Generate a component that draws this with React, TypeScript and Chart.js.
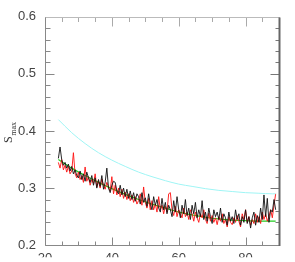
import React, { useEffect, useRef } from "react";
import { Chart, registerables } from "chart.js";

Chart.register(...registerables);

// x sampling of the noisy series
const X_START = 24;
const X_STEP = 0.5;

const BLACK = [
  0.352, 0.372, 0.350, 0.340,
  0.345, 0.335, 0.342, 0.330,
  0.338, 0.325, 0.332, 0.322,
  0.318, 0.330, 0.315, 0.325,
  0.312, 0.328, 0.318, 0.310,
  0.322, 0.305, 0.318, 0.300,
  0.315, 0.303, 0.322, 0.298,
  0.310, 0.335, 0.300, 0.292,
  0.305, 0.312, 0.310, 0.295,
  0.290, 0.305, 0.288, 0.300,
  0.285, 0.298, 0.282, 0.295,
  0.280, 0.292, 0.277, 0.290,
  0.285, 0.272, 0.292, 0.275,
  0.283, 0.268, 0.290, 0.272,
  0.262, 0.285, 0.270, 0.280,
  0.265, 0.258, 0.282, 0.262,
  0.275, 0.255, 0.270, 0.262,
  0.250, 0.278, 0.258, 0.285,
  0.262, 0.248, 0.270, 0.255,
  0.280, 0.252, 0.265, 0.245,
  0.270, 0.255, 0.275, 0.248,
  0.262, 0.250, 0.278, 0.245,
  0.258, 0.242, 0.265, 0.250,
  0.238, 0.262, 0.250, 0.258,
  0.245, 0.265, 0.240, 0.255,
  0.248, 0.235, 0.258, 0.242,
  0.250, 0.238, 0.262, 0.245,
  0.255, 0.235, 0.250, 0.240,
  0.262, 0.238, 0.250, 0.230,
  0.248, 0.258, 0.235, 0.252,
  0.240, 0.265, 0.245, 0.288,
  0.250, 0.282, 0.240, 0.262,
  0.258, 0.280, 0.262,
];

const RED = [
  0.345, 0.335, 0.350, 0.332,
  0.340, 0.328, 0.338, 0.325,
  0.330, 0.362, 0.325, 0.318,
  0.328, 0.315, 0.322, 0.310,
  0.337, 0.312, 0.320, 0.305,
  0.315, 0.308, 0.325, 0.302,
  0.312, 0.300, 0.316, 0.305,
  0.298, 0.310, 0.302, 0.295,
  0.320, 0.290, 0.305, 0.288,
  0.300, 0.285, 0.298, 0.282,
  0.293, 0.280, 0.290, 0.278,
  0.288, 0.275, 0.285, 0.272,
  0.278, 0.290, 0.270, 0.302,
  0.275, 0.265, 0.282, 0.262,
  0.278, 0.262, 0.272, 0.258,
  0.285, 0.262, 0.270, 0.255,
  0.268, 0.258, 0.290, 0.292,
  0.262, 0.252, 0.268, 0.250,
  0.262, 0.255, 0.248, 0.265,
  0.250, 0.258, 0.245, 0.262,
  0.255, 0.242, 0.258, 0.248,
  0.240, 0.255, 0.248, 0.262,
  0.245, 0.238, 0.256, 0.242,
  0.252, 0.240, 0.248, 0.236,
  0.250, 0.242, 0.255, 0.238,
  0.245, 0.232, 0.250, 0.240,
  0.236, 0.248, 0.240, 0.252,
  0.242, 0.232, 0.255, 0.245,
  0.262, 0.240, 0.250, 0.235,
  0.245, 0.238, 0.255, 0.240,
  0.250, 0.238, 0.258, 0.245,
  0.255, 0.242, 0.250, 0.262,
  0.248, 0.270, 0.290,
];

// smooth curves
const SMOOTH_X = [24, 28, 32, 36, 40, 44, 48, 52, 56, 60, 64, 68, 72, 76, 80, 84, 88, 89];
const GREEN = [0.350, 0.335, 0.322, 0.310, 0.299, 0.289, 0.280, 0.272, 0.265, 0.258, 0.253, 0.249, 0.246, 0.244, 0.243, 0.242, 0.242, 0.242];
const CYAN = [0.420, 0.397, 0.378, 0.362, 0.349, 0.338, 0.328, 0.320, 0.313, 0.307, 0.303, 0.299, 0.296, 0.294, 0.292, 0.291, 0.290, 0.290];

const X_TICKS = [20, 40, 60, 80];
const X_MINOR = [25, 30, 35, 45, 50, 55, 65, 70, 75, 85];
const Y_TICKS = [0.2, 0.3, 0.4, 0.5, 0.6];
const Y_MINOR = [0.22, 0.24, 0.26, 0.28, 0.32, 0.34, 0.36, 0.38, 0.42, 0.44, 0.46, 0.48, 0.52, 0.54, 0.56, 0.58];

const noisy = (arr: number[]) => arr.map((v, i) => ({ x: X_START + i * X_STEP, y: v }));
const smooth = (arr: number[]) => arr.map((v, i) => ({ x: SMOOTH_X[i], y: v }));

const framePlugin = {
  id: "frame",
  afterDatasetsDraw(chart: any) {
    const { ctx, chartArea, scales } = chart;
    const { left, right, top, bottom } = chartArea;
    const xs = scales.x;
    const ys = scales.y;
    ctx.save();
    const line = (x1: number, y1: number, x2: number, y2: number, c: string, w = 1) => {
      ctx.strokeStyle = c;
      ctx.lineWidth = w;
      ctx.beginPath();
      ctx.moveTo(x1, y1);
      ctx.lineTo(x2, y2);
      ctx.stroke();
    };
    const L = Math.round(left) + 0.5;
    const R = Math.round(right) + 0.5;
    const T = Math.round(top) + 0.5;
    const B = Math.round(bottom) + 0.5;
    X_TICKS.forEach((v) => {
      const p = Math.round(xs.getPixelForValue(v)) + 0.5;
      line(p, B, p, B - 8, "#888");
      line(p, T, p, T + 9, "#aaa");
    });
    X_MINOR.forEach((v) => {
      const p = Math.round(xs.getPixelForValue(v)) + 0.5;
      line(p, B, p, B - 4, "#888");
      line(p, T, p, T + 4.5, "#aaa");
    });
    Y_TICKS.forEach((v) => {
      const p = Math.round(ys.getPixelForValue(v)) + 0.5;
      line(L, p, L + 9, p, "#888");
      line(R, p, R - 9, p, "#777");
    });
    Y_MINOR.forEach((v) => {
      const p = Math.round(ys.getPixelForValue(v)) + 0.5;
      line(L, p, L + 5, p, "#888");
      line(R, p, R - 4, p, "#777");
    });
    line(L, T, R, T, "#bbb");
    line(L, T, L, B, "#888");
    line(L, B, R, B, "#888");
    line(R, T, R, B + 0.5, "#666", 2);

    // axis title S_max
    ctx.fillStyle = "#333";
    ctx.translate(12, 143);
    ctx.rotate(-Math.PI / 2);
    ctx.font = "12px 'Liberation Serif', serif";
    ctx.textBaseline = "alphabetic";
    ctx.textAlign = "left";
    ctx.fillText("S", 0, 0);
    const w = ctx.measureText("S").width;
    ctx.font = "8px 'Liberation Serif', serif";
    ctx.fillText("max", w + 0.5, 4);
    ctx.restore();
  },
};

export default function App() {
  const ref = useRef<HTMLCanvasElement>(null);
  useEffect(() => {
    const canvas = ref.current;
    if (!canvas) return;
    const chart = new Chart(canvas, {
      type: "line",
      data: {
        datasets: [
          {
            data: smooth(CYAN),
            borderColor: "#9ff5f5",
            borderWidth: 1,
            pointRadius: 0,
            cubicInterpolationMode: "monotone",
          },
          {
            data: noisy(BLACK),
            borderColor: "#111111",
            borderWidth: 0.9,
            pointRadius: 0,
            tension: 0,
          },
          {
            data: noisy(RED),
            borderColor: "#ff1010",
            borderWidth: 0.9,
            pointRadius: 0,
            tension: 0,
          },
          {
            data: smooth(GREEN),
            borderColor: "#22cc22",
            borderWidth: 1.2,
            pointRadius: 0,
            cubicInterpolationMode: "monotone",
          },
        ],
      },
      options: {
        animation: false,
        responsive: false,
        events: [],
        layout: { padding: { top: 16, right: 16, left: 0, bottom: 0 } },
        plugins: { legend: { display: false }, tooltip: { enabled: false } },
        scales: {
          x: {
            type: "linear",
            min: 20,
            max: 90,
            grid: { display: false, drawTicks: false },
            border: { display: false },
            afterBuildTicks: (s: any) => {
              s.ticks = X_TICKS.map((v) => ({ value: v }));
            },
            afterFit: (s: any) => {
              s.height = 12;
            },
            ticks: {
              padding: 5,
              color: "#444",
              font: { family: "'Liberation Sans', Arial, sans-serif", size: 13 },
              maxRotation: 0,
              callback: (v: any) => String(v),
            },
          },
          y: {
            type: "linear",
            min: 0.2,
            max: 0.6,
            grid: { display: false, drawTicks: false },
            border: { display: false },
            afterBuildTicks: (s: any) => {
              s.ticks = Y_TICKS.map((v) => ({ value: v }));
            },
            afterFit: (s: any) => {
              s.width = 45;
            },
            ticks: {
              padding: 9,
              color: "#444",
              font: { family: "'Liberation Sans', Arial, sans-serif", size: 13 },
              callback: (v: any) => Number(v).toFixed(1),
            },
          },
        },
      },
      plugins: [framePlugin],
    } as any);
    return () => chart.destroy();
  }, []);
  return (
    <div style={{ position: "absolute", left: 0, top: 0, width: 295, height: 262, background: "#fff" }}>
      <canvas ref={ref} width={295} height={262} style={{ display: "block" }} />
    </div>
  );
}
